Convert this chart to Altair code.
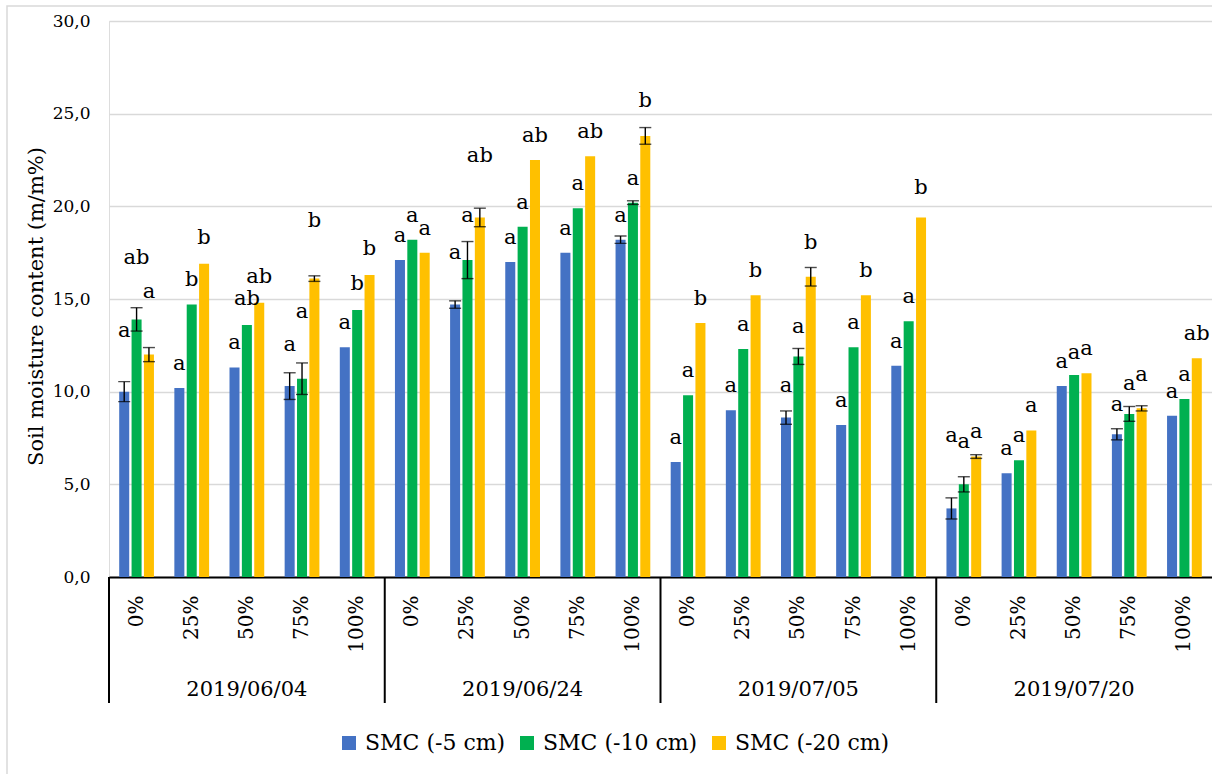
import altair as alt
import pandas as pd

dates = ["2019/06/04", "2019/06/24", "2019/07/05", "2019/07/20"]
levels = ["0%", "25%", "50%", "75%", "100%"]
series = ["SMC (-5 cm)", "SMC (-10 cm)", "SMC (-20 cm)"]
colors = ["#4472C4", "#00B050", "#FFC000"]

smc5 = [10.0, 10.2, 11.3, 10.3, 12.4, 17.1, 14.7, 17.0, 17.5, 18.2,
        6.2, 9.0, 8.6, 8.2, 11.4, 3.7, 5.6, 10.3, 7.7, 8.7]
smc10 = [13.9, 14.7, 13.6, 10.7, 14.4, 18.2, 17.1, 18.9, 19.9, 20.2,
         9.8, 12.3, 11.9, 12.4, 13.8, 5.0, 6.3, 10.9, 8.8, 9.6]
smc20 = [12.0, 16.9, 14.8, 16.1, 16.3, 17.5, 19.4, 22.5, 22.7, 23.8,
         13.7, 15.2, 16.2, 15.2, 19.4, 6.5, 7.9, 11.0, 9.1, 11.8]

err5 = [0.54, 0, 0, 0.72, 0, 0, 0.2, 0, 0, 0.2,
        0, 0, 0.36, 0, 0, 0.57, 0, 0, 0.3, 0]
err10 = [0.63, 0, 0, 0.85, 0, 0, 1.0, 0, 0, 0.1,
         0, 0, 0.43, 0, 0, 0.41, 0, 0, 0.4, 0]
err20 = [0.38, 0, 0, 0.15, 0, 0, 0.5, 0, 0, 0.45,
         0, 0, 0.5, 0, 0, 0.1, 0, 0, 0.14, 0]

let5 = ["a"] * 20
let10 = ["ab", "b", "ab", "a", "b", "a", "a", "a", "a", "a",
         "a", "a", "a", "a", "a", "a", "a", "a", "a", "a"]
let20 = ["a", "b", "ab", "b", "b", "a", "ab", "ab", "ab", "b",
         "b", "b", "b", "b", "b", "a", "a", "a", "a", "ab"]

# heights (data units) at which the letters sit in the reference
lab5 = [13.3, 11.5, 12.6, 12.5, 13.7, 18.4, 17.5, 18.3, 18.8, 19.5,
        7.5, 10.3, 10.3, 9.5, 12.7, 7.6, 6.9, 11.6, 9.3, 10.0]
lab10 = [17.2, 16.0, 15.0, 14.3, 15.8, 19.5, 19.5, 20.2, 21.2, 21.5,
         11.1, 13.6, 13.5, 13.7, 15.1, 7.3, 7.6, 12.1, 10.4, 10.9]
lab20 = [15.4, 18.3, 16.2, 19.2, 17.7, 18.8, 22.7, 23.8, 24.0, 25.7,
         15.0, 16.5, 18.0, 16.5, 21.0, 7.8, 9.2, 12.3, 10.9, 13.1]

FONT = "DejaVu Serif"
W, H = 1103, 556

keys = [f"{d}|{l}" for d in dates for l in levels]
rows = []
for s, vals, errs, lets, labs in zip(series, [smc5, smc10, smc20], [err5, err10, err20],
                                      [let5, let10, let20], [lab5, lab10, lab20]):
    for i, k in enumerate(keys):
        rows.append({"key": k, "series": s, "value": vals[i], "err": errs[i],
                     "lo": vals[i] - errs[i], "hi": vals[i] + errs[i],
                     "letter": lets[i], "laby": labs[i]})
df = pd.DataFrame(rows)
df_err = df[df["err"] > 0]

date_df = pd.DataFrame({"date": dates, "key": [f"{d}|50%" for d in dates]})
sep_df = pd.DataFrame({"key": [f"{d}|0%" for d in dates]})

xenc = alt.X("key:N", sort=keys,
             scale=alt.Scale(domain=keys, paddingInner=0, paddingOuter=0),
             axis=alt.Axis(title=None, labelExpr="split(datum.value, '|')[1]",
                           labelAngle=-90, labelAlign="right", labelBaseline="middle",
                           labelPadding=18, labelFontSize=20,
                           labelColor="black", ticks=False, domainColor="black",
                           domainWidth=2, grid=False))
xoff = alt.XOffset("series:N", sort=series,
                   scale=alt.Scale(domain=series, paddingInner=0.19, paddingOuter=0.825))

bars = alt.Chart(df).mark_bar().encode(
    x=xenc,
    xOffset=xoff,
    y=alt.Y("value:Q", scale=alt.Scale(domain=[0, 30], nice=False),
            axis=alt.Axis(title="Soil moisture content (m/m%)", values=[0, 5, 10, 15, 20, 25, 30],
                          labelExpr="replace(format(datum.value, '.1f'), '.', ',')",
                          labelFontSize=17, labelColor="black",
                          labelPadding=19, ticks=False, domain=False,
                          gridColor="#D9D9D9", gridWidth=1.5,
                          titleFontSize=21, titleFontWeight="normal",
                          titleColor="black", titleX=-67, titleY=285,
                          titleBaseline="alphabetic")),
    color=alt.Color("series:N", sort=series,
                    scale=alt.Scale(domain=series, range=colors),
                    legend=alt.Legend(title=None, orient="none", legendX=229, legendY=711,
                                      direction="horizontal", symbolType="square",
                                      symbolSize=196, symbolStrokeWidth=0,
                                      labelFontSize=22, labelColor="black",
                                      labelOffset=5, padding=0)),
)

err_rule = alt.Chart(df_err).mark_rule(color="black", strokeWidth=1.4).encode(
    x=alt.X("key:N", sort=keys), xOffset=alt.XOffset("series:N", sort=series),
    y="lo:Q", y2="hi:Q")
cap_lo = alt.Chart(df_err).mark_tick(color="black", thickness=1.4, size=12).encode(
    x=alt.X("key:N", sort=keys), xOffset=alt.XOffset("series:N", sort=series), y="lo:Q")
cap_hi = alt.Chart(df_err).mark_tick(color="black", thickness=1.4, size=12).encode(
    x=alt.X("key:N", sort=keys), xOffset=alt.XOffset("series:N", sort=series), y="hi:Q")

letters = alt.Chart(df).mark_text(fontSize=21, color="black", baseline="middle").encode(
    x=alt.X("key:N", sort=keys), xOffset=alt.XOffset("series:N", sort=series),
    y="laby:Q", text="letter:N")

date_text = alt.Chart(date_df).mark_text(fontSize=21, color="black",
                                         baseline="middle").encode(
    x=alt.X("key:N", sort=keys), y=alt.value(669), text="date:N")

seps = alt.Chart(sep_df).mark_rule(color="black", strokeWidth=2).encode(
    x=alt.X("key:N", sort=keys, bandPosition=0), y=alt.value(H), y2=alt.value(682))

frame = alt.Chart(pd.DataFrame({"f": [0]})).mark_rect(
    fill=None, stroke="#D9D9D9", strokeWidth=1.5).encode(
    x=alt.value(-102), x2=alt.value(1120), y=alt.value(-15), y2=alt.value(800))

chart = alt.layer(frame, bars, err_rule, cap_lo, cap_hi, letters, date_text, seps).properties(
    width=W, height=H,
    autosize=alt.AutoSizeParams(type="none"),
    padding={"left": 109, "top": 21, "right": 0, "bottom": 197},
).configure_view(stroke=None).configure_legend(
    columnPadding=38, labelFont=FONT
).configure_axis(
    labelFont=FONT, titleFont=FONT
).configure_text(font=FONT).configure(background="white", font=FONT)

chart.save("out.html", embed_options={"renderer": "svg", "actions": False})
